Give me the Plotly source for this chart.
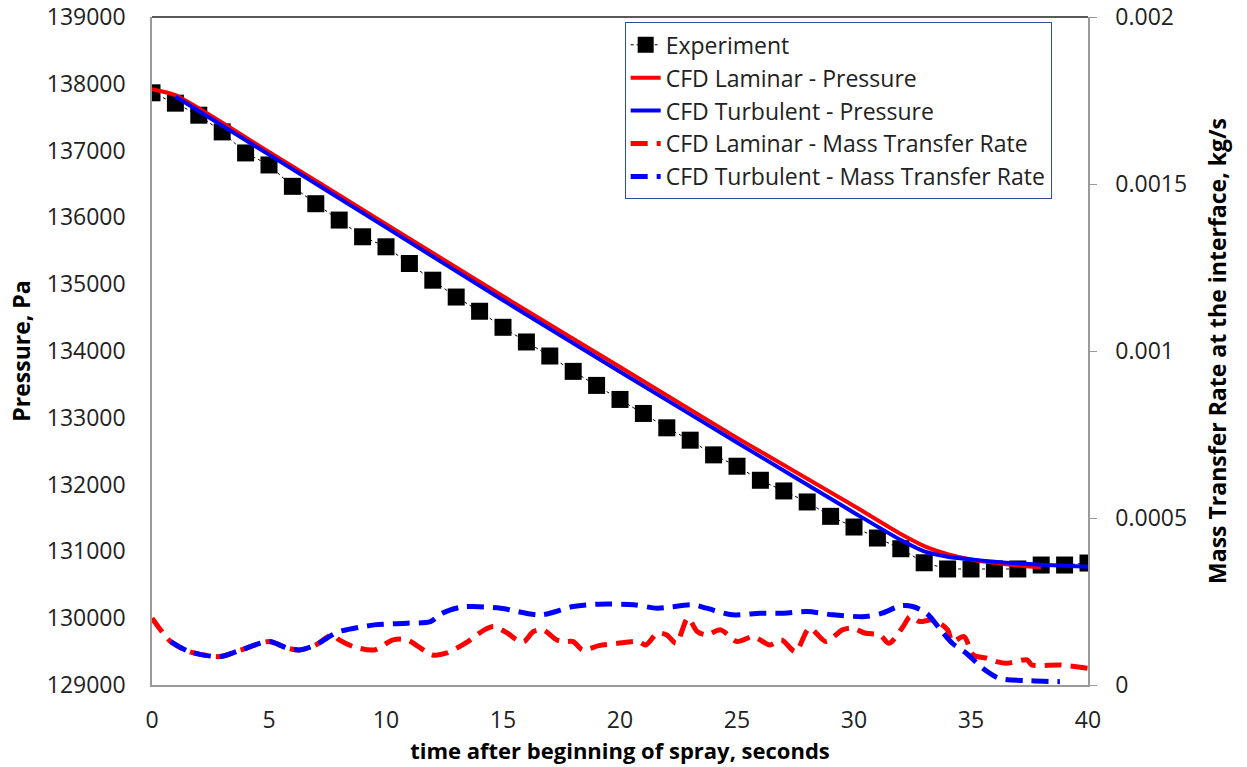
import plotly.graph_objects as go

# experiment, one reading per second
exp_t = list(range(0, 41))
exp_p = [137865, 137710, 137530, 137280, 136965, 136785, 136465, 136205, 135960, 135710,
         135560, 135310, 135060, 134808, 134595, 134355, 134135, 133925, 133695, 133485,
         133275, 133065, 132850, 132665, 132445, 132275, 132065, 131905, 131740, 131525,
         131365, 131200, 131040, 130830, 130737, 130737, 130737, 130737, 130796, 130796,
         130826]

# CFD pressure
lam_t = [0, 1, 5, 10, 15, 20, 25, 30, 32, 33, 34, 35, 36, 37, 38]
lam_p = [137920, 137830, 136980, 135900, 134820, 133760, 132700, 131680, 131260, 131080,
         130960, 130880, 130830, 130790, 130760]
tur_t = [1, 5, 10, 15, 20, 25, 30, 32, 33, 34, 35, 36, 37, 38, 39, 40]
tur_p = [137810, 136940, 135850, 134760, 133690, 132630, 131580, 131170, 131000, 130920,
         130880, 130845, 130820, 130800, 130785, 130770]

# CFD mass transfer rate, kg/s
lam_mt_t = [0, 0.8, 1.6, 2.9, 3.8, 5.0, 5.8, 6.3, 7.0, 7.7, 8.0, 8.6, 9.5, 10.3, 10.9, 12.0,
            12.6, 13.5, 14.2, 14.6, 15.2, 15.6, 15.9, 16.3, 16.7, 17.3, 17.6, 18.0, 18.4,
            19.1, 19.9, 20.8, 21.1, 21.6, 22.0, 22.4, 22.9, 23.3, 23.7, 24.3, 25.0, 25.7,
            26.4, 26.9, 27.5, 28.1, 28.8, 29.5, 29.9, 30.5, 31.1, 31.5, 32.1, 32.4, 32.8,
            33.4, 34.0, 34.2, 34.7, 35.1, 35.7, 36.1, 36.5, 37.4, 37.6, 38.8, 40.0]
lam_mt = [0.000200, 0.000130, 0.000100, 0.000085, 0.000105, 0.000130, 0.000110, 0.000105,
          0.000120, 0.000150, 0.000135, 0.000115, 0.000105, 0.000135, 0.000135, 0.000090,
          0.000096, 0.000130, 0.000165, 0.000175, 0.000155, 0.000135, 0.000130, 0.000160,
          0.000165, 0.000135, 0.000130, 0.000130, 0.000105, 0.000118, 0.000125, 0.000130,
          0.000120, 0.000155, 0.000150, 0.000125, 0.000200, 0.000160, 0.000150, 0.000165,
          0.000130, 0.000145, 0.000120, 0.000135, 0.000100, 0.000170, 0.000130, 0.000165,
          0.000170, 0.000155, 0.000150, 0.000125, 0.000175, 0.000205, 0.000190, 0.000195,
          0.000165, 0.000130, 0.000145, 0.000090, 0.000080, 0.000070, 0.000065, 0.000075,
          0.000060, 0.000060, 0.000050]
tur_mt_t = [0.8, 1.6, 2.9, 3.8, 5.0, 5.8, 6.3, 7.0, 7.7, 8.0, 9.5, 10.9, 11.9, 12.4, 13.2,
            13.7, 14.9, 16.6, 18.0, 19.1, 20.6, 21.6, 23.1, 23.7, 24.8, 26.0, 27.0, 28.0,
            29.1, 30.5, 31.2, 32.0, 32.5, 33.1, 33.7, 34.2, 34.8, 35.5, 36.2, 37.4, 38.8]
tur_mt = [0.000130, 0.000100, 0.000085, 0.000105, 0.000130, 0.000110, 0.000105,
          0.000120, 0.000150, 0.000160, 0.000180, 0.000185, 0.000190, 0.000215, 0.000233,
          0.000235, 0.000230, 0.000210, 0.000235, 0.000242, 0.000240, 0.000230, 0.000240,
          0.000230, 0.000210, 0.000215, 0.000215, 0.000220, 0.000210, 0.000205, 0.000215,
          0.000237, 0.000235, 0.000215, 0.000165, 0.000125, 0.000095, 0.000050, 0.000020,
          0.000013, 0.000010]

mt_ticks = [0, 0.0005, 0.001, 0.0015, 0.002]
mt_labels = ["0", "0.0005", "0.001", "0.0015", "0.002"]

FONT = "Open Sans"
fig = go.Figure()

fig.add_trace(go.Scatter(
    x=exp_t, y=exp_p, name="Experiment", mode="lines+markers",
    line=dict(color="black", width=1, dash="dot"),
    marker=dict(symbol="square", size=17, color="black")
))
fig.add_trace(go.Scatter(
    x=lam_t, y=lam_p, name="CFD Laminar - Pressure", mode="lines",
    line=dict(color="#ff0000", width=4, shape="spline", smoothing=0.6)
))
fig.add_trace(go.Scatter(
    x=tur_t, y=tur_p, name="CFD Turbulent - Pressure", mode="lines",
    line=dict(color="#0000ff", width=4, shape="spline", smoothing=0.6)
))
fig.add_trace(go.Scatter(
    x=lam_mt_t, y=lam_mt, name="CFD Laminar - Mass Transfer Rate", mode="lines",
    yaxis="y2",
    line=dict(color="#ff0000", width=5, dash="17px,9px", shape="spline", smoothing=0.8)
))
fig.add_trace(go.Scatter(
    x=tur_mt_t, y=tur_mt, name="CFD Turbulent - Mass Transfer Rate", mode="lines",
    yaxis="y2",
    line=dict(color="#0000ff", width=5, dash="17px,9px", shape="spline", smoothing=0.8)
))

# dark top border of the plot area
fig.add_shape(type="line", xref="paper", yref="paper", x0=0, x1=1, y0=1, y1=1,
              line=dict(color="#222222", width=1.5))

fig.update_layout(
    width=1247, height=767,
    margin=dict(l=152, r=159, t=17, b=82),
    plot_bgcolor="white", paper_bgcolor="white",
    font=dict(family=FONT, size=22, color="#222222"),
    xaxis=dict(
        range=[0, 40], dtick=5, showgrid=False, zeroline=False, automargin=False,
        showline=True, linecolor="#9a9a9a", linewidth=1.5, ticks="",
        ticklabelstandoff=14, tickfont=dict(size=23),
        title=dict(text="<b>time after beginning of spray, seconds</b>",
                   font=dict(size=22, color="black"), standoff=8)
    ),
    yaxis=dict(
        range=[129000, 139000], dtick=1000, tickformat="d", showgrid=False,
        zeroline=False, showline=True, linecolor="#9a9a9a", linewidth=1.5, ticks="",
        ticklabelstandoff=20, tickfont=dict(size=23), automargin=False,
        ticklabeloverflow="allow",
        title=dict(text="<b>Pressure, Pa</b>", font=dict(size=23, color="black"),
                   standoff=10)
    ),
    yaxis2=dict(
        overlaying="y", side="right", range=[0, 0.002], automargin=False,
        tickvals=mt_ticks, ticktext=mt_labels, showgrid=False, zeroline=False,
        showline=True, linecolor="#9a9a9a", linewidth=1.5,
        ticks="outside", ticklen=7, tickcolor="#9a9a9a", ticklabelstandoff=14,
        tickfont=dict(size=23), ticklabeloverflow="allow",
        title=dict(text="<b>Mass Transfer Rate at the interface, kg/s</b>",
                   font=dict(size=23, color="black"), standoff=24)
    ),
    legend=dict(
        x=0.505, y=0.992, xanchor="left", yanchor="top",
        bgcolor="white", bordercolor="#2f4f8f", borderwidth=1,
        font=dict(size=23, color="#222222"), tracegroupgap=0
    ),
    showlegend=True
)

# drop the default page margin so the figure fills the window exactly
fig.write_html("out.html", config={"displayModeBar": False},
               post_script="document.body.style.margin = '0';")
